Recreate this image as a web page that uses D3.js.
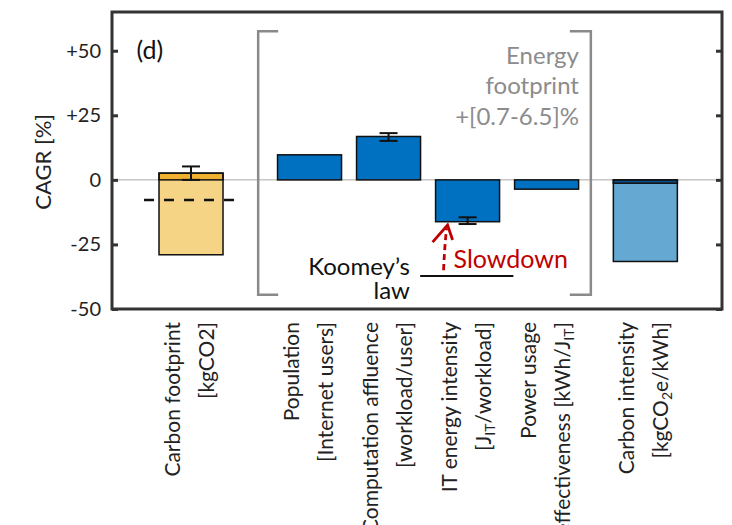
<!DOCTYPE html>
<html>
<head>
<meta charset="UTF-8">
<script src="https://d3js.org/d3.v7.min.js"></script>
<style>
  body { margin: 0; background: #fff; }
  text { font-family: Lato, "Noto Sans", sans-serif; }
</style>
</head>
<body>
<div id="chart"></div>
<script>
// --- data ---
const line1 = ["Carbon footprint", "Population", "Computation affluence", "IT energy intensity", "Power usage", "Carbon intensity"];
const line2 = ["[kgCO2]", "[Internet users]", "[workload/user]", "[J_{IT}/workload]", "effectiveness [kWh/J_{IT}]", "[kgCO_{2}e/kWh]"];
const values = [-29, 9.7, 16.8, -16.2, -3.6, -31.6];
const topPart = [2.6, 0, 0, 0, 0, -1.3];   // extra segment drawn at the zero end of a bar
const errLow = [0, null, 15.1, -17.1, null, null];
const errHigh = [5.2, null, 18.1, -14.5, null, null];
const dashedValue = -7.75;
const yTicks = [-50, -25, 0, 25, 50];
const energyText = ["Energy", "footprint", "+[0.7-6.5]%"];
const koomeyText = ["Koomey\u2019s", "law"];

const W = 732, H = 525;
const pLeft = 112, pRight = 722, pTop = 12, pBottom = 309;
const slot = [0, 1.5, 2.5, 3.5, 4.5, 5.75];
const barColor = ["#f5d485", "#0070c0", "#0070c0", "#0070c0", "#0070c0", "#65a9d3"];
const topColor = ["#f0b030", null, null, null, null, "#0b4f8a"];

const svg = d3.select("#chart").append("svg").attr("width", W).attr("height", H);

const x = d3.scaleLinear().domain([-1, 6.72]).range([pLeft, pRight]);
const y = d3.scaleLinear().domain([-50, 65]).range([pBottom, pTop]);
const bw = x(0.81) - x(0);

// zero line
svg.append("line").attr("x1", pLeft).attr("x2", pRight)
  .attr("y1", y(0)).attr("y2", y(0)).attr("stroke", "#aaa").attr("stroke-width", 1);

// brackets
const bracket = svg.append("g").attr("fill", "none").attr("stroke", "#8a8a8a").attr("stroke-width", 2.5);
bracket.append("path").attr("d", `M${x(0.85) + 20},${y(57.5)} H${x(0.85)} V${y(-44.5)} H${x(0.85) + 20}`);
bracket.append("path").attr("d", `M${x(5.06) - 21},${y(57.5)} H${x(5.06)} V${y(-44.5)} H${x(5.06) - 21}`);

// bars
const idx = d3.range(values.length);
svg.selectAll(".bar").data(idx).enter().append("rect")
  .attr("x", i => x(slot[i]) - bw / 2).attr("width", bw)
  .attr("y", i => y(Math.max(0, values[i])))
  .attr("height", i => Math.abs(y(values[i]) - y(0)))
  .attr("fill", i => barColor[i]);
svg.selectAll(".topbar").data(idx.filter(i => topPart[i] !== 0)).enter().append("rect")
  .attr("x", i => x(slot[i]) - bw / 2).attr("width", bw)
  .attr("y", i => y(Math.max(0, topPart[i])))
  .attr("height", i => Math.abs(y(topPart[i]) - y(0)))
  .attr("fill", i => topColor[i]).attr("stroke", "#111").attr("stroke-width", 1.5);
svg.selectAll(".outline").data(idx).enter().append("rect")
  .attr("x", i => x(slot[i]) - bw / 2).attr("width", bw)
  .attr("y", i => y(Math.max(0, values[i], topPart[i])))
  .attr("height", i => Math.abs(y(values[i]) - y(Math.max(0, topPart[i]))))
  .attr("fill", "none").attr("stroke", "#111").attr("stroke-width", 1.5);

// error bars
const eb = svg.append("g").attr("stroke", "#111").attr("stroke-width", 2);
idx.filter(i => errLow[i] !== null).forEach(i => {
  const cx = x(slot[i]);
  eb.append("line").attr("x1", cx).attr("x2", cx).attr("y1", y(errLow[i])).attr("y2", y(errHigh[i]));
  [errLow[i], errHigh[i]].forEach(v => {
    eb.append("line").attr("x1", cx - 9).attr("x2", cx + 9).attr("y1", y(v)).attr("y2", y(v));
  });
});

// dashed line on carbon footprint
svg.append("line").attr("x1", x(slot[0]) - 47).attr("x2", x(slot[0]) + 45)
  .attr("y1", y(dashedValue)).attr("y2", y(dashedValue))
  .attr("stroke", "#111").attr("stroke-width", 2.5).attr("stroke-dasharray", "10,10");

// frame and axes
svg.append("rect").attr("x", pLeft).attr("y", pTop).attr("width", pRight - pLeft).attr("height", pBottom - pTop)
  .attr("fill", "none").attr("stroke", "#333").attr("stroke-width", 3);
const fmt = d => d > 0 ? "+" + d : String(d);
const ay = svg.append("g").attr("transform", `translate(${pLeft},0)`)
  .call(d3.axisLeft(y).tickValues(yTicks).tickSize(-6).tickPadding(11).tickFormat(fmt));
ay.select(".domain").remove();
ay.selectAll("line").attr("stroke", "#333").attr("stroke-width", 3);
ay.selectAll("text").style("font-size", "20px").attr("fill", "#222");
const ar = svg.append("g").attr("transform", `translate(${pRight},0)`)
  .call(d3.axisRight(y).tickValues(yTicks).tickSize(-6).tickFormat(""));
ar.select(".domain").remove();
ar.selectAll("line").attr("stroke", "#333").attr("stroke-width", 3);

svg.append("text").attr("transform", `translate(51,${y(7)}) rotate(-90)`)
  .attr("text-anchor", "middle").style("font-size", "22px").attr("fill", "#222").text("CAGR [%]");

svg.append("text").attr("x", x(-0.69)).attr("y", y(50) + 8)
  .style("font-size", "25px").attr("fill", "#111").text("(d)");

// category labels, two rotated lines each
function addRich(textSel, s) {
  const parts = s.split(/(_\{[^}]*\})/);
  parts.forEach(p => {
    if (!p) return;
    if (p.startsWith("_{")) {
      textSel.append("tspan").attr("baseline-shift", "-30%").style("font-size", "14px").text(p.slice(2, -1));
    } else {
      textSel.append("tspan").text(p);
    }
  });
}
idx.forEach(i => {
  const g = svg.append("g").attr("transform", `translate(${x(slot[i])},${pBottom + 13}) rotate(-90)`);
  g.append("text").attr("x", 0).attr("y", -11).attr("text-anchor", "end")
    .style("font-size", "21px").attr("fill", "#222").text(line1[i]);
  const t2 = g.append("text").attr("x", 0).attr("y", 23).attr("text-anchor", "end")
    .style("font-size", "21px").attr("fill", "#222");
  addRich(t2, line2[i]);
});

// energy footprint note
energyText.forEach((s, i) => {
  svg.append("text").attr("text-anchor", "end").style("font-size", "24px").attr("fill", "#8c8c8c")
    .attr("x", x(4.91)).attr("y", y(45) + i * 30.5).text(s);
});

// Koomey's law
koomeyText.forEach((s, i) => {
  svg.append("text").attr("text-anchor", "end").style("font-size", "24px").attr("fill", "#111")
    .attr("x", x(2.77)).attr("y", y(-36.7) + i * 24.5).text(s);
});
svg.append("line").attr("x1", x(2.9)).attr("x2", x(4.08))
  .attr("y1", y(-37.2)).attr("y2", y(-37.2)).attr("stroke", "#111").attr("stroke-width", 2);

// slowdown arrow and label
const red = "#c00000";
const tipX = x(slot[3]) - bw / 2 + 12, tipY = y(-17.5);
svg.append("path").attr("d", `M${tipX - 4},${y(-35)} Q${tipX - 3},${y(-26)} ${tipX - 1},${tipY + 3}`)
  .attr("fill", "none").attr("stroke", red).attr("stroke-width", 2.8).attr("stroke-dasharray", "6,4");
svg.append("path").attr("d", `M${tipX - 15},${tipY + 17} L${tipX},${tipY} L${tipX + 5},${tipY + 15}`)
  .attr("fill", "none").attr("stroke", red).attr("stroke-width", 2.8);
svg.append("text").attr("x", tipX + 6).attr("y", y(-34.3))
  .style("font-size", "25px").attr("fill", red).text("Slowdown");
</script>
</body>
</html>
